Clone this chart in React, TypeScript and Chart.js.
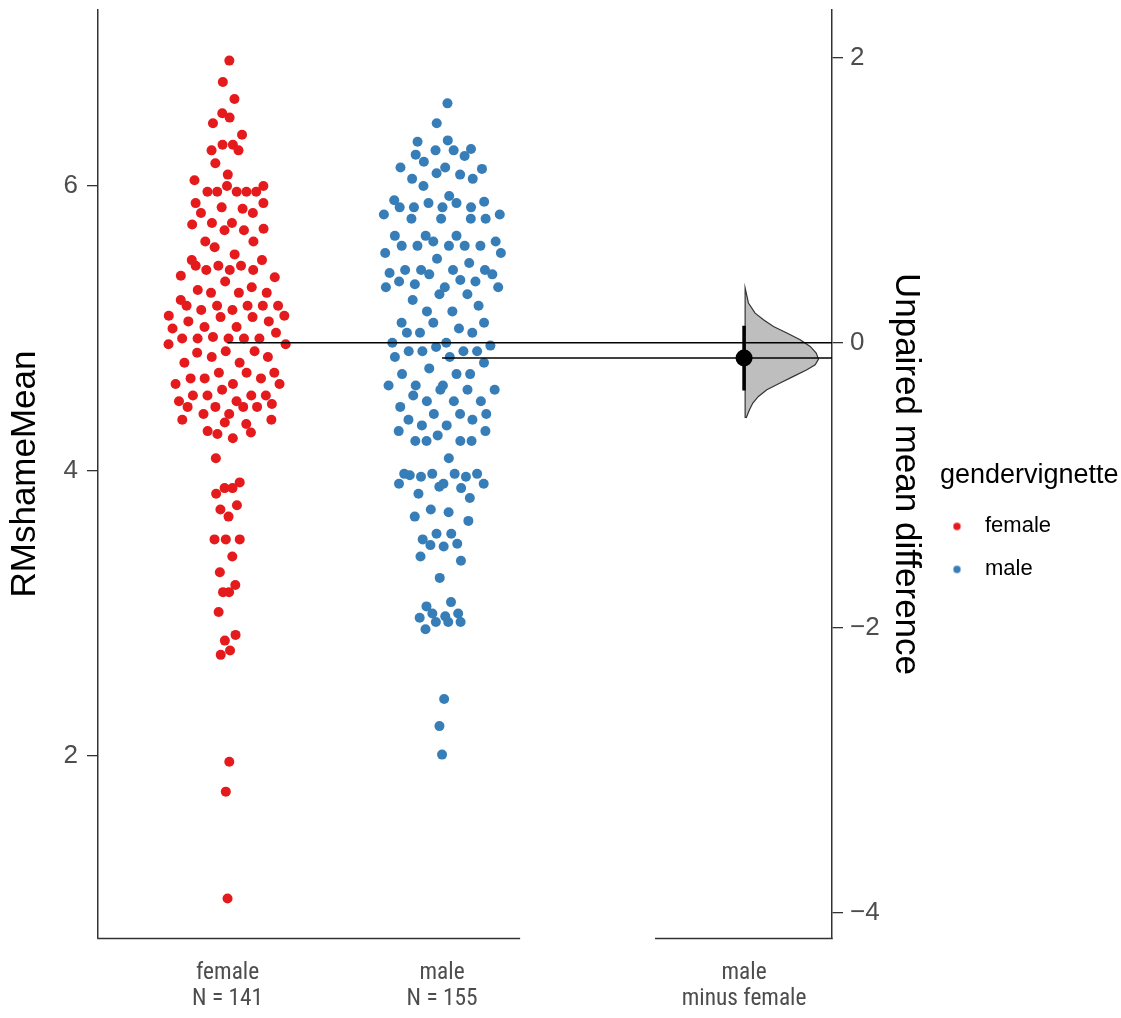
import React, { useEffect, useRef } from 'react';
import { Chart, registerables } from 'chart.js';

Chart.register(...registerables);

// ---------------- data ----------------
const groups = ['female', 'male'];
const groupColors = ['#E41A1C', '#377EB8'];
const xTickLabels = [['female', 'N = 141'], ['male', 'N = 155'], ['male', 'minus female']];
const xPositions = [1, 2, 3.408];
const xRange = [0.396, 3.818];
const xAxisBreak = [2.364, 2.993];
const leftRange = [0.723, 7.235];
const leftTicks = [2, 4, 6];
const rightTicks = [-4, -2, 0, 2];

const femaleValues = [
  6.88, 6.73, 6.61, 6.51, 6.48, 6.44, 6.36, 6.29, 6.29, 6.25, 6.25, 6.16, 6.08, 6.04, 6.0,
  5.96, 5.96, 5.96, 5.96, 5.96, 6.0, 5.88, 5.84, 5.85, 5.81, 5.88, 5.81,
  5.74, 5.74, 5.69, 5.73, 5.69, 5.7, 5.61, 5.57, 5.61,
  5.48, 5.44, 5.44, 5.52, 5.44, 5.48, 5.41, 5.41, 5.36, 5.41, 5.33, 5.37,
  5.29, 5.25, 5.25, 5.25, 5.2, 5.27, 5.16, 5.16, 5.16, 5.16, 5.16, 5.13, 5.13, 5.08, 5.08, 5.09, 5.05, 5.09,
  5.01, 5.0, 5.01, 4.97, 4.89, 4.93, 4.93, 4.94, 4.93, 4.93, 4.93, 4.89, 4.83, 4.84, 4.84, 4.8, 4.8, 4.76, 4.76,
  4.69, 4.69, 4.69, 4.61, 4.65, 4.65, 4.61, 4.65, 4.61, 4.57, 4.53, 4.53, 4.49, 4.45, 4.45, 4.49, 4.45, 4.53,
  4.53, 4.45, 4.47, 4.36, 4.4, 4.4, 4.36, 4.33, 4.34, 4.28, 4.26, 4.27, 4.23,
  4.09, 3.84, 3.88, 3.88, 3.92, 3.73, 3.76, 3.68, 3.52, 3.52, 3.52, 3.4, 3.29, 3.15, 3.15, 3.2, 3.01,
  2.85, 2.81, 2.74, 2.71, 1.96, 1.75, 1.0, 5.05,
];

const maleValues = [
  6.58, 6.44,
  6.31, 6.32, 6.25, 6.25, 6.21, 6.26, 6.22, 6.17, 6.12, 6.13, 6.08, 6.09, 6.13, 6.05, 6.0, 6.05,
  5.9, 5.85, 5.8, 5.85, 5.77, 5.88, 5.85, 5.77, 5.93, 5.89, 5.85, 5.77, 5.88, 5.77, 5.8,
  5.65, 5.58, 5.53, 5.58, 5.65, 5.61, 5.49, 5.65, 5.58, 5.58, 5.58, 5.61, 5.53, 5.46, 5.41, 5.41, 5.38,
  5.33, 5.38, 5.41, 5.33, 5.34, 5.41, 5.39, 5.29, 5.29, 5.31,
  5.29, 5.24, 5.24, 5.2, 5.16, 5.12, 5.12, 5.04, 5.04, 5.04, 4.97, 4.97, 5.0, 4.97,
  4.9, 4.84, 4.84, 4.87, 4.9, 4.8, 4.8, 4.84, 4.84, 4.88, 4.76, 4.72, 4.68, 4.68, 4.68, 4.6, 4.6, 4.6,
  4.57, 4.57, 4.57, 4.53, 4.49, 4.49, 4.49,
  4.45, 4.4, 4.4, 4.4, 4.36, 4.32, 4.36, 4.32, 4.28, 4.28, 4.21, 4.21, 4.25, 4.21, 4.21, 4.09,
  3.98, 3.97, 3.96, 3.98, 3.98, 3.96, 3.98, 3.91, 3.91, 3.88, 3.89, 3.91, 3.84, 3.81,
  3.68, 3.73, 3.71, 3.65, 3.52, 3.49, 3.56, 3.47, 3.56, 3.48, 3.4, 3.37, 3.25,
  3.05, 3.0, 2.97, 3.08, 3.0, 2.94, 2.98, 2.94, 2.94, 2.89,
  2.4, 2.21, 2.01,
];

const femaleMean = 4.9;
const meanDiff = -0.107;
const diffCI = [0.119, -0.335];
const diffGrid = [0.384, 0.279, 0.208, 0.161, 0.114, 0.068, 0.021, -0.026, -0.072, -0.115, -0.154, -0.189,
  -0.236, -0.283, -0.33, -0.377, -0.423, -0.47, -0.528];
const diffDensity = [0, 0.045, 0.136, 0.25, 0.386, 0.569, 0.75, 0.887, 0.969, 1, 0.955, 0.842, 0.659, 0.477,
  0.296, 0.181, 0.105, 0.059, 0.014];

// ---------------- layout helpers (positions / styles only) ----------------
const swarmHalfWidth = 0.3;
const densityMaxWidth = 0.342;
const densityBase = xPositions[2] + 0.005;
const legendBoxWidth = 181;
const narrowCandidates = ['Liberation Sans Narrow', 'Arial Narrow', 'Roboto Condensed', 'Open Sans Condensed'];

function vanDerCorput(n: number): number {
  let v = 0;
  let denom = 1;
  while (n > 0) {
    denom *= 2;
    v += (n % 2) / denom;
    n = Math.floor(n / 2);
  }
  return v;
}

// quasirandom (ggbeeswarm-like) horizontal offsets computed from the values
function quasiOffsets(ys: number[], width: number): number[] {
  const n = ys.length;
  const mean = ys.reduce((a, b) => a + b, 0) / n;
  const sd = Math.sqrt(ys.reduce((a, b) => a + (b - mean) ** 2, 0) / (n - 1));
  const sorted = [...ys].sort((a, b) => a - b);
  const q = (p: number) => {
    const h = (n - 1) * p;
    const lo = Math.floor(h);
    return sorted[lo] + (h - lo) * (sorted[Math.min(lo + 1, n - 1)] - sorted[lo]);
  };
  const iqr = q(0.75) - q(0.25);
  const bw = 0.9 * Math.min(sd, iqr / 1.34) * Math.pow(n, -0.2) * 0.5;
  const dens = ys.map((y) => ys.reduce((s, v) => s + Math.exp(-0.5 * ((y - v) / bw) ** 2), 0));
  const maxD = Math.max(...dens);
  const order = ys.map((_, i) => i).sort((a, b) => ys[a] - ys[b] || a - b);
  const rank: number[] = new Array(n);
  order.forEach((idx, r) => (rank[idx] = r + 1));
  return ys.map((_, i) => (vanDerCorput(rank[i]) - 0.5) * 2 * width * (dens[i] / maxD));
}

function legendDot(color: string): HTMLCanvasElement {
  const c = document.createElement('canvas');
  c.width = 30;
  c.height = 10;
  const ctx = c.getContext('2d')!;
  ctx.fillStyle = color;
  ctx.beginPath();
  ctx.arc(4.5, 5, 3.7, 0, Math.PI * 2);
  ctx.fill();
  return c;
}

// choose a condensed face for the x labels if one is installed; otherwise shrink
function xLabelFont(): { family: string; size: number } {
  const ctx = document.createElement('canvas').getContext('2d')!;
  const sample = 'N = 141';
  ctx.font = '25px monospace';
  const base = ctx.measureText(sample).width;
  const target = 71;
  for (const fam of narrowCandidates) {
    ctx.font = `25px '${fam}', monospace`;
    const w = ctx.measureText(sample).width;
    if (Math.abs(w - base) > 0.5) {
      return { family: `'${fam}', 'Liberation Sans', sans-serif`, size: Math.min(25, (25 * target) / w) };
    }
  }
  ctx.font = "25px 'Liberation Sans'";
  const w = ctx.measureText(sample).width;
  return { family: "'Liberation Sans', Arial, sans-serif", size: Math.min(25, (25 * target) / w) };
}

const brokenXAxis = {
  id: 'brokenXAxis',
  afterDraw(chart: any) {
    const { ctx, chartArea, scales } = chart;
    const x = scales.x;
    const y = Math.round(chartArea.bottom) + 0.5;
    ctx.save();
    ctx.strokeStyle = '#333333';
    ctx.lineWidth = 1.5;
    ctx.beginPath();
    ctx.moveTo(x.getPixelForValue(xRange[0]) - 0.75, y);
    ctx.lineTo(x.getPixelForValue(xAxisBreak[0]), y);
    ctx.moveTo(x.getPixelForValue(xAxisBreak[1]), y);
    ctx.lineTo(x.getPixelForValue(xRange[1]) + 0.75, y);
    ctx.stroke();
    ctx.restore();
  },
};

// the legend title is wider than its items; give the legend box room for it
const fixedLegendWidth = {
  id: 'fixedLegendWidth',
  beforeLayout(chart: any) {
    const lg = chart.legend;
    if (lg && !lg.__fixedWidth) {
      const orig = lg.fit;
      lg.fit = function (this: any) {
        orig.call(this);
        this.width = legendBoxWidth;
      };
      lg.__fixedWidth = true;
    }
  },
};

function noEdgePadding(scale: any) {
  scale.paddingTop = 0;
  scale.paddingBottom = 0;
  scale.paddingLeft = 0;
  scale.paddingRight = 0;
}

export default function App() {
  const ref = useRef<HTMLCanvasElement>(null);

  useEffect(() => {
    const canvas = ref.current;
    if (!canvas) return;
    Chart.defaults.font.family = "'Liberation Sans', Arial, sans-serif";

    const xFont = xLabelFont();
    const femaleOff = quasiOffsets(femaleValues, swarmHalfWidth);
    const maleOff = quasiOffsets(maleValues, swarmHalfWidth);
    const n = diffGrid.length;
    const densityPoly = [
      { x: densityBase, y: diffGrid[n - 1] },
      { x: densityBase, y: diffGrid[0] },
      ...diffGrid.map((g, i) => ({ x: densityBase + diffDensity[i] * densityMaxWidth, y: g })),
    ];
    const maleMean = femaleMean + meanDiff;

    const chart = new Chart(canvas, {
      type: 'scatter',
      data: {
        datasets: [
          {
            type: 'scatter',
            label: groups[0],
            data: femaleValues.map((v, i) => ({ x: xPositions[0] + femaleOff[i], y: v })),
            backgroundColor: groupColors[0],
            borderWidth: 0,
            pointRadius: 5,
            yAxisID: 'y',
            order: 5,
          },
          {
            type: 'scatter',
            label: groups[1],
            data: maleValues.map((v, i) => ({ x: xPositions[1] + maleOff[i], y: v })),
            backgroundColor: groupColors[1],
            borderWidth: 0,
            pointRadius: 5,
            yAxisID: 'y',
            order: 5,
          },
          {
            type: 'line',
            label: 'female mean',
            data: [{ x: xPositions[0], y: femaleMean }, { x: xRange[1], y: femaleMean }],
            borderColor: '#000',
            borderWidth: 1.5,
            pointRadius: 0,
            fill: false,
            yAxisID: 'y',
            order: 2,
          },
          {
            type: 'line',
            label: 'male mean',
            data: [{ x: xPositions[1], y: maleMean }, { x: xRange[1], y: maleMean }],
            borderColor: '#000',
            borderWidth: 1.5,
            pointRadius: 0,
            fill: false,
            yAxisID: 'y',
            order: 2,
          },
          {
            type: 'line',
            label: 'bootstrap density',
            data: densityPoly,
            borderColor: '#333333',
            borderWidth: 1.2,
            backgroundColor: '#BEBEBE',
            fill: 'shape',
            pointRadius: 0,
            tension: 0,
            yAxisID: 'y2',
            order: 3,
          },
          {
            type: 'line',
            label: '95% CI',
            data: [{ x: xPositions[2], y: diffCI[0] }, { x: xPositions[2], y: diffCI[1] }],
            borderColor: '#000',
            borderWidth: 3.5,
            pointRadius: 0,
            fill: false,
            yAxisID: 'y2',
            order: 1,
          },
          {
            type: 'scatter',
            label: 'mean difference',
            data: [{ x: xPositions[2], y: meanDiff }],
            backgroundColor: '#000',
            borderWidth: 0,
            pointRadius: 8.5,
            yAxisID: 'y2',
            order: 0,
          },
        ],
      },
      options: {
        responsive: false,
        animation: false,
        devicePixelRatio: 1,
        events: [],
        layout: { padding: { left: 0, top: 10, right: 0, bottom: 0 } },
        plugins: {
          tooltip: { enabled: false },
          legend: {
            display: true,
            position: 'right',
            align: 'start',
            title: {
              display: true,
              text: 'gendervignette',
              color: '#000',
              position: 'start',
              font: { size: 27, family: "'Liberation Sans', Arial, sans-serif" },
              padding: { top: 452, bottom: 0 },
            },
            labels: {
              usePointStyle: true,
              pointStyleWidth: 13,
              padding: 21,
              color: '#1a1a1a',
              font: { size: 22, family: "'Liberation Sans', Arial, sans-serif" },
              generateLabels: () =>
                groups.map((g, i) => ({
                  text: g,
                  fillStyle: groupColors[i],
                  strokeStyle: groupColors[i],
                  lineWidth: 0,
                  pointStyle: legendDot(groupColors[i]),
                  hidden: false,
                  datasetIndex: i,
                })),
            },
          },
        },
        scales: {
          x: {
            type: 'linear',
            min: xRange[0],
            max: xRange[1],
            grid: { display: false, drawTicks: false },
            border: { display: false },
            afterBuildTicks: (scale: any) => {
              scale.ticks = xPositions.map((v) => ({ value: v }));
            },
            afterFit: (scale: any) => {
              scale.height = 80;
              noEdgePadding(scale);
            },
            ticks: {
              autoSkip: false,
              maxRotation: 0,
              minRotation: 0,
              padding: 22,
              color: '#4D4D4D',
              font: { size: xFont.size, lineHeight: 1.12, family: xFont.family },
              callback: (_v: any, i: number) => xTickLabels[i],
            },
          },
          y: {
            type: 'linear',
            position: 'left',
            min: leftRange[0],
            max: leftRange[1],
            bounds: 'data',
            afterBuildTicks: (scale: any) => {
              scale.ticks = leftTicks.map((v) => ({ value: v }));
            },
            afterFit: (scale: any) => {
              scale.width = 98;
              noEdgePadding(scale);
            },
            grid: { drawOnChartArea: false, drawTicks: true, tickLength: 11, color: '#333333', lineWidth: 1.3 },
            border: { display: true, color: '#333333', width: 1.5 },
            ticks: {
              padding: 9,
              color: '#4D4D4D',
              font: { size: 26 },
              callback: (v: any) => String(v),
            },
            title: {
              display: true,
              text: 'RMshameMean',
              color: '#000',
              font: { size: 35 },
              padding: { top: 4, bottom: 0 },
            },
          },
          y2: {
            type: 'linear',
            position: 'right',
            min: leftRange[0] - femaleMean,
            max: leftRange[1] - femaleMean,
            bounds: 'data',
            afterBuildTicks: (scale: any) => {
              scale.ticks = rightTicks.map((v) => ({ value: v }));
            },
            afterFit: (scale: any) => {
              scale.width = 108;
              noEdgePadding(scale);
            },
            grid: { drawOnChartArea: false, drawTicks: true, tickLength: 11, color: '#333333', lineWidth: 1.3 },
            border: { display: true, color: '#333333', width: 1.5 },
            ticks: {
              padding: 7,
              color: '#4D4D4D',
              font: { size: 26 },
              callback: (v: any) => (Number(v) < 0 ? '\u2212' + Math.abs(Number(v)) : String(v)),
            },
            title: {
              display: true,
              text: 'Unpaired mean difference',
              color: '#000',
              font: { size: 35 },
              padding: { top: 13, bottom: 0 },
            },
          },
        },
      } as any,
      plugins: [brokenXAxis, fixedLegendWidth],
    });

    return () => chart.destroy();
  }, []);

  return (
    <div style={{ position: 'absolute', left: 0, top: 0, width: 1121, height: 1018, background: '#fff' }}>
      <canvas ref={ref} width={1121} height={1018} style={{ display: 'block' }} />
    </div>
  );
}
